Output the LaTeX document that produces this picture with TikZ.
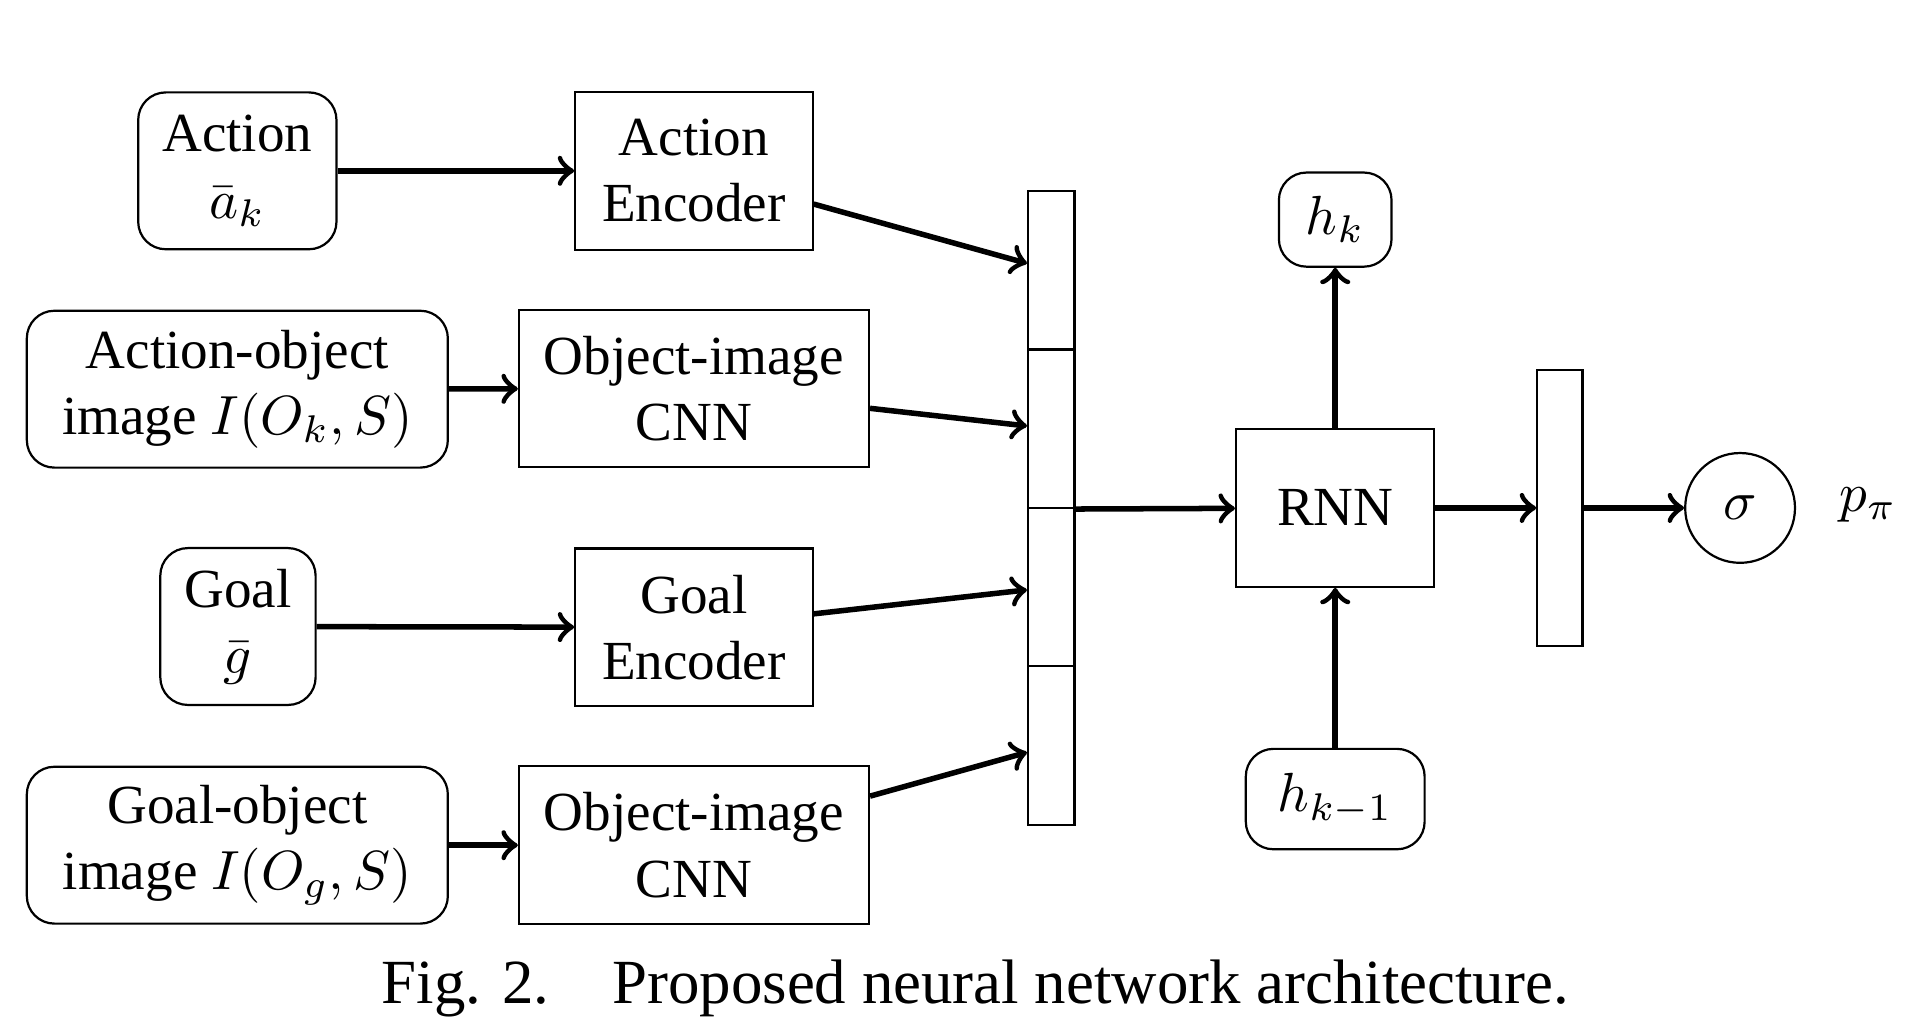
\documentclass[tikz,border=0pt]{standalone}
\usepackage{fontspec}
\setmainfont{Liberation Serif}
\usepackage{amsmath}
\usetikzlibrary{positioning}

\begin{document}
\begin{tikzpicture}
		[auto,
		input/.style ={rectangle, draw=black, rounded corners=5pt, align=center, minimum height=1cm, inner sep=2pt},
		block/.style ={rectangle, draw=black, align=center, minimum height=1.005cm, inner sep=2pt},
		cell/.style ={rectangle, draw=black, minimum width=0.296cm, minimum height=1.010cm, inner sep=0pt},
		state/.style ={input, minimum height=0.62cm},
		]
		\useasboundingbox (0,0) rectangle (12.24,-6.574);

		% inputs
		\draw (1.513,-1.089) node[input, minimum width=1.264cm] (A) {Action\\$\bar{a}_k$};
		\draw (1.513,-2.481) node[input, minimum width=2.684cm] (AO) {Action-object\\image $I(O_k,S)$};
		\draw (1.517,-3.994) node[input, minimum width=0.99cm] (G) {Goal\\$\bar{g}$};
		\draw (1.513,-5.388) node[input, minimum width=2.684cm] (GO) {Goal-object\\image $I(O_g,S)$};

		% encoders
		\draw (4.424,-1.089) node[block, minimum width=1.513cm] (AE) {Action\\Encoder};
		\draw (4.424,-2.477) node[block, minimum width=2.231cm] (CNN1) {Object-image\\CNN};
		\draw (4.424,-3.999) node[block, minimum width=1.513cm] (GE) {Goal\\Encoder};
		\draw (4.424,-5.388) node[block, minimum width=2.231cm] (CNN2) {Object-image\\CNN};

		% concatenation
		\draw (6.702,-1.722) node[cell] (C1) {};
		\draw (6.702,-2.733) node[cell] (C2) {};
		\draw (6.702,-3.743) node[cell] (C3) {};
		\draw (6.702,-4.753) node[cell] (C4) {};

		% recurrent part
		\draw (8.512,-3.238) node[block, minimum width=1.264cm] (RNN) {RNN};
		\draw (8.512,-1.400) node[state, minimum width=0.718cm, minimum height=0.60cm] (H1) {$h_k$};
		\draw (8.512,-5.094) node[state, minimum width=1.14cm, minimum height=0.64cm] (H0) {$h_{k-1}$};
		\draw (9.944,-3.238) node[cell, minimum width=0.288cm, minimum height=1.763cm] (FC) {};
		\draw (11.093,-3.238) node[circle, draw=black, minimum size=0.70cm, inner sep=0pt] (S) {$\sigma$};
		\draw (11.909,-3.22) node (P) {$p_\pi$};

		\draw (6.218,-6.30) node (cap) {\fontsize{11.4}{14}\selectfont Fig. 2.\quad Proposed neural network architecture.};

		\path[->, line width=1pt]
		(A) edge (AE)
		(AO) edge (CNN1)
		(G) edge (GE)
		(GO) edge (CNN2)
		(AE) edge (C1)
		(CNN1) edge (C2)
		(GE) edge (C3)
		(CNN2) edge (C4)
		(C2.south east) edge (RNN)
		(RNN) edge (H1)
		(H0) edge (RNN)
		(RNN) edge (FC)
		(FC) edge (S);

	\end{tikzpicture}
\end{document}
